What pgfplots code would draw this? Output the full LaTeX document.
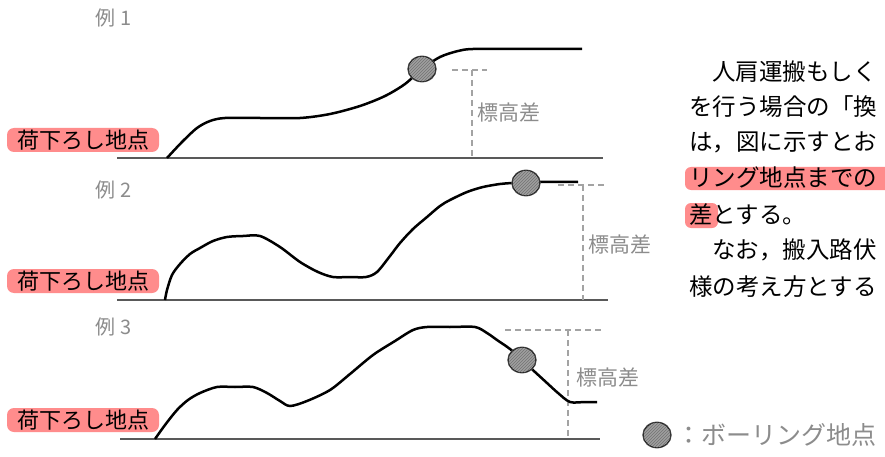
\documentclass[border=0pt]{standalone}
\usepackage{fontspec}
\setmainfont{Noto Sans CJK JP}
\usepackage{pgfplots}
\pgfplotsset{compat=1.18}
\usetikzlibrary{patterns}
\definecolor{hl}{RGB}{255,140,140}
\definecolor{lbl}{RGB}{140,140,140}
\newcommand{\fs}[1]{\fontsize{#1}{#1}\selectfont}
\begin{document}
\begin{tikzpicture}
\useasboundingbox (0,0) rectangle (885pt,457pt);
\clip (0,0) rectangle (885pt,457pt);
\fill[white] (0,0) rectangle (885pt,457pt);
\begin{axis}[at={(0,0)}, anchor=south west, scale only axis,
    width=885pt, height=457pt, xmin=0, xmax=885, ymin=0, ymax=457,
    y dir=reverse, hide axis, clip=false,
    curve/.style={black, line width=2.5pt, smooth, tension=0.5, no marks},
    base/.style={black!65, line width=1.8pt, no marks},
    guide/.style={lbl!80, line width=1.1pt, dash pattern=on 6pt off 4pt, no marks},
    bore/.style={only marks, mark=*, mark size=13pt,
        mark options={xscale=1.1, fill=gray!75, draw=black!70, line width=0.8pt}},
    borehatch/.style={only marks, mark=*, mark size=12.5pt,
        mark options={xscale=1.1, draw=none, pattern=north east lines, pattern color=black!55}}]

% baselines
\addplot[base] coordinates {(117,158) (603,158)};
\addplot[base] coordinates {(117,300) (608,300)};
\addplot[base] coordinates {(120,439) (600,439)};

% elevation guides
\addplot[guide] coordinates {(452,70) (487,70)};
\addplot[guide] coordinates {(472,70) (472,158)};
\addplot[guide] coordinates {(558,185) (605,185)};
\addplot[guide] coordinates {(583,185) (583,300)};
\addplot[guide] coordinates {(505,330) (603,330)};
\addplot[guide] coordinates {(568,330) (568,439)};

% example 1
\addplot[curve] coordinates {
    (167,158) (182,142) (197,128) (210,121) (225,118) (260,118) (300,118)
    (330,114) (360,106) (385,96) (405,84) (422,69) (440,57) (458,51) (473,49)
    (520,49) (582,49)};
% example 2
\addplot[curve] coordinates {
    (165,300) (167,290) (172,275) (180,264) (190,254) (200,248) (213,241)
    (227,237) (243,236) (260,236) (280,247) (300,262) (318,272) (333,277)
    (350,277) (366,277) (377,272) (390,256) (400,243) (413,229) (427,217)
    (440,206) (450,200) (467,192) (483,187) (500,184) (513,183) (540,182) (578,182)};
% example 3
\addplot[curve] coordinates {
    (155,439) (165,425) (177,410) (188,400) (200,393) (217,387) (235,387)
    (253,387) (267,393) (280,401) (290,406) (307,401) (330,390) (350,374)
    (373,355) (395,341) (413,330) (427,327) (450,327) (475,327) (487,333)
    (497,340) (510,349) (522,360) (535,372) (547,383) (558,393) (570,402)
    (585,402) (597,402)};

% boring points
\addplot[bore] coordinates {(422,69) (526,183) (522,360) (657,435)};
\addplot[borehatch] coordinates {(422,69) (526,183) (522,360) (657,435)};

% panel titles
\node[lbl, anchor=west, font=\fs{20}] at (axis cs:92,18) {例 1};
\node[lbl, anchor=west, font=\fs{20}] at (axis cs:92,190) {例 2};
\node[lbl, anchor=west, font=\fs{20}] at (axis cs:92,327) {例 3};

% unloading labels
\foreach \yy in {140,281,420} {
  \edef\tmp{\noexpand\node[fill=hl, rounded corners=7pt, minimum width=152pt,
    minimum height=24pt, inner sep=0pt, font=\noexpand\fs{22}] at (axis cs:83,\yy) {荷下ろし地点};}
  \tmp
}

% elevation labels
\node[lbl, anchor=west, font=\fs{21}] at (axis cs:474,113) {標高差};
\node[lbl, anchor=west, font=\fs{21}] at (axis cs:585,245) {標高差};
\node[lbl, anchor=west, font=\fs{21}] at (axis cs:573,378) {標高差};

% legend text
\node[lbl, anchor=west, inner sep=0pt, font=\fs{25}] at (axis cs:676,435) {：ボーリング地点};

% body text
\fill[hl, rounded corners=6pt] (axis cs:685,167) rectangle (axis cs:900,190);
\fill[hl, rounded corners=6pt] (axis cs:685,203) rectangle (axis cs:718,228);
\node[anchor=west, inner sep=0pt, font=\fs{23.5}] at (axis cs:712,72) {人肩運搬もしく};
\node[anchor=west, inner sep=0pt, font=\fs{23.5}] at (axis cs:689,107) {を行う場合の「換};
\node[anchor=west, inner sep=0pt, font=\fs{23.5}] at (axis cs:689,142) {は，図に示すとお};
\node[anchor=west, inner sep=0pt, font=\fs{23.5}] at (axis cs:689,178) {リング地点までの};
\node[anchor=west, inner sep=0pt, font=\fs{23.5}] at (axis cs:689,215) {差とする。};
\node[anchor=west, inner sep=0pt, font=\fs{23.5}] at (axis cs:712,250) {なお，搬入路伏};
\node[anchor=west, inner sep=0pt, font=\fs{23.5}] at (axis cs:689,287) {様の考え方とする};
\end{axis}
\end{tikzpicture}
\end{document}
